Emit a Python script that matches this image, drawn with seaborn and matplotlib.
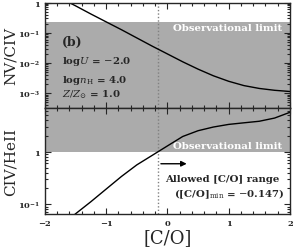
import numpy as np
import pandas as pd
import matplotlib
matplotlib.use("Agg")
import matplotlib.pyplot as plt
import matplotlib.ticker as mticker
import seaborn as sns

# [C/O] grid and line ratios
co = [-1.75, -1.5, -1.25, -1.0, -0.75, -0.5, -0.25, 0.0,
      0.25, 0.5, 0.75, 1.0, 1.25, 1.5, 1.75, 2.0]
nv_civ = [1.41, 0.776, 0.417, 0.229, 0.126, 0.0676, 0.0363, 0.0200,
          0.0110, 0.0063, 0.0038, 0.0025, 0.0018, 0.00145, 0.00126, 0.00115]
civ_heii = [0.038, 0.066, 0.112, 0.195, 0.339, 0.562, 0.851, 1.29,
            1.95, 2.51, 2.95, 3.31, 3.55, 3.80, 4.37, 5.62]

nv_civ_limit = 0.22
civ_heii_limit = 1.0
co_min = -0.147

df = pd.DataFrame({"co": co, "nv_civ": nv_civ, "civ_heii": civ_heii})

sns.set_style("ticks")
plt.rcParams["font.family"] = ["DejaVu Serif"]
plt.rcParams["mathtext.fontset"] = "dejavuserif"

fig, (ax1, ax2) = plt.subplots(2, 1, sharex=True, figsize=(2.94, 2.51), dpi=100)
fig.subplots_adjust(left=0.153, right=0.986, top=0.986, bottom=0.143, hspace=0)

gray = "#ababab"


def log_fmt(v, pos):
    if abs(v - 1) < 1e-9:
        return "1"
    e = int(round(np.log10(v)))
    return r"$\mathbf{10^{%d}}$" % e


for ax in (ax1, ax2):
    ax.set_yscale("log")
    ax.set_xlim(-2, 2)
    ax.axvline(co_min, color="gray", ls=(0, (1, 1.5)), lw=1)
    ax.xaxis.set_major_locator(mticker.MultipleLocator(1))
    ax.xaxis.set_minor_locator(mticker.MultipleLocator(0.2))
    ax.yaxis.set_major_locator(mticker.LogLocator(base=10))
    ax.yaxis.set_minor_locator(mticker.LogLocator(base=10, subs=np.arange(2, 10)))
    ax.yaxis.set_minor_formatter(mticker.NullFormatter())
    ax.yaxis.set_major_formatter(mticker.FuncFormatter(log_fmt))
    ax.tick_params(which="both", direction="in", top=True, right=True,
                   labelsize=6, width=0.8)
    ax.tick_params(which="major", length=4.5)
    ax.tick_params(which="minor", length=2.2)
    for sp in ax.spines.values():
        sp.set_linewidth(1)

txt = dict(fontsize=7.3, fontweight="bold")

# top panel: NV/CIV
ax1.set_ylim(3.2e-4, 1)
ax1.axhspan(3.2e-4, nv_civ_limit, color=gray, lw=0, zorder=0)
sns.lineplot(data=df, x="co", y="nv_civ", ax=ax1, color="black", lw=1)
ax1.set_ylabel("NV/CIV", fontsize=11)
ax1.yaxis.set_label_coords(-0.112, 0.5)
ax1.text(0.968, 0.768, "Observational limit", transform=ax1.transAxes,
         ha="right", va="center", color="white", **txt)
ax1.text(0.07, 0.635, "(b)", transform=ax1.transAxes, ha="left", va="center",
         fontsize=9, fontweight="bold")
ax1.text(0.07, 0.455, r"log$U$ = $-$2.0", transform=ax1.transAxes,
         ha="left", va="center", **txt)
ax1.text(0.07, 0.275, r"log$n_{\rm H}$ = 4.0", transform=ax1.transAxes,
         ha="left", va="center", **txt)
ax1.text(0.07, 0.133, r"$Z/Z_{\odot}$ = 1.0", transform=ax1.transAxes,
         ha="left", va="center", **txt)

# bottom panel: CIV/HeII
ax2.set_ylim(0.065, 6.7)
ax2.axhspan(civ_heii_limit, 6.7, color=gray, lw=0, zorder=0)
sns.lineplot(data=df, x="co", y="civ_heii", ax=ax2, color="black", lw=1)
ax2.set_ylabel("CIV/HeII", fontsize=11)
ax2.yaxis.set_label_coords(-0.112, 0.5)
ax2.set_xlabel("[C/O]", fontsize=13, labelpad=1)
ax2.text(0.968, 0.648, "Observational limit", transform=ax2.transAxes,
         ha="right", va="center", color="white", **txt)
ax2.annotate("", xy=(0.59, 0.476), xytext=(0.462, 0.476), xycoords="axes fraction",
             arrowprops=dict(arrowstyle="-|>", color="black", lw=1, mutation_scale=8))
ax2.text(0.49, 0.333, "Allowed [C/O] range", transform=ax2.transAxes,
         ha="left", va="center", **txt)
ax2.text(0.527, 0.2, r"([C/O]$_{\rm min}$ = $-$0.147)", transform=ax2.transAxes,
         ha="left", va="center", **txt)

for ax in (ax1, ax2):
    for lab in ax.get_xticklabels() + ax.get_yticklabels():
        lab.set_fontweight("bold")

fig.savefig("out.png", dpi=100)
